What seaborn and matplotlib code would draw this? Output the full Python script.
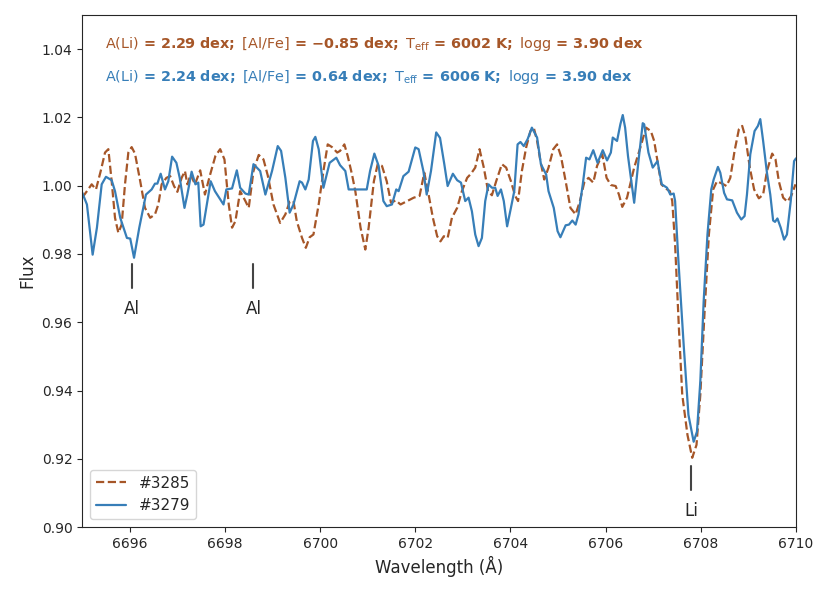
import numpy as np
import pandas as pd
import matplotlib
matplotlib.use("Agg")
import matplotlib.pyplot as plt
import seaborn as sns

# star #3279 (solid blue)
wl_3279 = [6695.00, 6695.10, 6695.22, 6695.31, 6695.41, 6695.50, 6695.62, 6695.69, 6695.80, 6695.94,
           6696.01, 6696.09, 6696.20, 6696.34, 6696.46, 6696.53, 6696.58, 6696.65, 6696.74, 6696.81,
           6696.89, 6696.98, 6697.05, 6697.15, 6697.21, 6697.30, 6697.38, 6697.44, 6697.49, 6697.55,
           6697.70, 6697.79, 6697.97, 6698.03, 6698.15, 6698.25, 6698.32, 6698.43, 6698.50, 6698.60,
           6698.74, 6698.85, 6698.99, 6699.11, 6699.18, 6699.27, 6699.36, 6699.44, 6699.57, 6699.62,
           6699.69, 6699.76, 6699.85, 6699.90, 6699.97, 6700.07, 6700.20, 6700.34, 6700.42, 6700.53,
           6700.60, 6700.98, 6701.05, 6701.14, 6701.23, 6701.33, 6701.40, 6701.51, 6701.60, 6701.65,
           6701.75, 6701.86, 6702.00, 6702.07, 6702.17, 6702.24, 6702.33, 6702.44, 6702.52, 6702.61,
           6702.68, 6702.79, 6702.88, 6702.96, 6703.05, 6703.12, 6703.19, 6703.26, 6703.33, 6703.40,
           6703.47, 6703.54, 6703.61, 6703.68, 6703.73, 6703.80, 6703.86, 6703.93, 6704.01, 6704.08,
           6704.15, 6704.21, 6704.28, 6704.36, 6704.45, 6704.56, 6704.64, 6704.75, 6704.80, 6704.91,
           6704.99, 6705.05, 6705.16, 6705.23, 6705.30, 6705.37, 6705.43, 6705.52, 6705.59, 6705.66,
           6705.74, 6705.83, 6705.94, 6706.03, 6706.11, 6706.15, 6706.24, 6706.31, 6706.36, 6706.41,
           6706.47, 6706.60, 6706.69, 6706.78, 6706.81, 6706.90, 6706.99, 6707.09, 6707.18, 6707.29,
           6707.36, 6707.43, 6707.46, 6707.53, 6707.64, 6707.74, 6707.85, 6707.92, 6707.99, 6708.06,
           6708.14, 6708.22, 6708.27, 6708.36, 6708.41, 6708.49, 6708.55, 6708.66, 6708.76, 6708.85,
           6708.92, 6708.97, 6709.04, 6709.13, 6709.20, 6709.25, 6709.31, 6709.39, 6709.46, 6709.52,
           6709.56, 6709.61, 6709.68, 6709.75, 6709.81, 6709.89, 6709.96, 6710.00]
flux_3279 = [0.9980, 0.9945, 0.9798, 0.9877, 1.0004, 1.0026, 1.0016, 0.9984, 0.9906, 0.9847,
             0.9845, 0.9789, 0.9877, 0.9974, 0.9989, 1.0006, 1.0006, 1.0035, 0.9989, 1.0013,
             1.0085, 1.0067, 1.0023, 0.9935, 0.9974, 1.0041, 1.0004, 1.0009, 0.9881, 0.9886,
             1.0013, 0.9984, 0.9945, 0.9989, 0.9992, 1.0045, 0.9994, 0.9977, 0.9974, 1.0063,
             1.0043, 0.9974, 1.0043, 1.0116, 1.0102, 1.0023, 0.9921, 0.9945, 1.0013, 1.0009,
             0.9989, 1.0018, 1.0131, 1.0143, 1.0107, 0.9994, 1.0067, 1.0082, 1.0060, 1.0043,
             0.9989, 0.9989, 1.0043, 1.0094, 1.0058, 0.9955, 0.9940, 0.9945, 0.9989, 0.9984,
             1.0028, 1.0041, 1.0112, 1.0107, 1.0043, 0.9974, 1.0043, 1.0156, 1.0140, 1.0063,
             0.9999, 1.0035, 1.0016, 1.0009, 0.9955, 0.9965, 0.9925, 0.9857, 0.9823, 0.9847,
             0.9955, 1.0004, 0.9994, 0.9994, 0.9970, 0.9989, 0.9955, 0.9881, 0.9935, 0.9984,
             1.0121, 1.0128, 1.0116, 1.0136, 1.0170, 1.0141, 1.0063, 1.0033, 0.9984, 0.9935,
             0.9867, 0.9849, 0.9884, 0.9886, 0.9898, 0.9886, 0.9916, 1.0004, 1.0082, 1.0077,
             1.0104, 1.0067, 1.0104, 1.0074, 1.0097, 1.0141, 1.0131, 1.0180, 1.0207, 1.0170,
             1.0087, 0.9950, 1.0072, 1.0183, 1.0180, 1.0097, 1.0053, 1.0072, 1.0004, 0.9994,
             0.9974, 0.9977, 0.9955, 0.9779, 0.9534, 0.9329, 0.9250, 0.9280, 0.9427, 0.9661,
             0.9857, 0.9989, 1.0018, 1.0055, 1.0038, 0.9979, 0.9960, 0.9957, 0.9921, 0.9901,
             0.9911, 0.9974, 1.0092, 1.0160, 1.0175, 1.0195, 1.0131, 1.0038, 0.9974, 0.9898,
             0.9894, 0.9904, 0.9877, 0.9842, 0.9857, 0.9955, 1.0072, 1.0080]

# star #3285 (dashed brown)
wl_3285 = [6695.00, 6695.10, 6695.20, 6695.29, 6695.39, 6695.48, 6695.55, 6695.62, 6695.69, 6695.76,
           6695.83, 6695.90, 6695.97, 6696.04, 6696.11, 6696.22, 6696.32, 6696.43, 6696.53, 6696.60,
           6696.67, 6696.77, 6696.85, 6696.93, 6697.00, 6697.09, 6697.16, 6697.21, 6697.28, 6697.37,
           6697.48, 6697.58, 6697.69, 6697.80, 6697.90, 6697.99, 6698.08, 6698.15, 6698.22, 6698.32,
           6698.43, 6698.50, 6698.60, 6698.71, 6698.81, 6698.90, 6699.02, 6699.16, 6699.27, 6699.36,
           6699.44, 6699.51, 6699.62, 6699.70, 6699.78, 6699.86, 6699.97, 6700.07, 6700.16, 6700.25,
           6700.36, 6700.42, 6700.51, 6700.58, 6700.67, 6700.74, 6700.85, 6700.95, 6701.02, 6701.13,
           6701.21, 6701.30, 6701.40, 6701.49, 6701.59, 6701.69, 6701.83, 6701.97, 6702.09, 6702.19,
           6702.28, 6702.37, 6702.46, 6702.53, 6702.60, 6702.68, 6702.77, 6702.88, 6702.98, 6703.09,
           6703.17, 6703.26, 6703.35, 6703.44, 6703.53, 6703.61, 6703.70, 6703.82, 6703.91, 6704.01,
           6704.10, 6704.16, 6704.24, 6704.33, 6704.42, 6704.49, 6704.56, 6704.63, 6704.71, 6704.80,
           6704.90, 6704.98, 6705.06, 6705.16, 6705.26, 6705.37, 6705.46, 6705.55, 6705.64, 6705.74,
           6705.82, 6705.93, 6706.02, 6706.11, 6706.21, 6706.28, 6706.35, 6706.45, 6706.60, 6706.73,
           6706.85, 6706.95, 6707.02, 6707.09, 6707.17, 6707.26, 6707.35, 6707.40, 6707.46, 6707.54,
           6707.61, 6707.72, 6707.82, 6707.91, 6707.99, 6708.08, 6708.17, 6708.26, 6708.34, 6708.45,
           6708.54, 6708.62, 6708.71, 6708.80, 6708.87, 6708.94, 6709.03, 6709.12, 6709.22, 6709.31,
           6709.39, 6709.50, 6709.57, 6709.64, 6709.73, 6709.82, 6709.90, 6709.99]
flux_3285 = [0.9965, 0.9984, 1.0004, 0.9989, 1.0043, 1.0097, 1.0107, 1.0013, 0.9906, 0.9862,
             0.9886, 1.0004, 1.0097, 1.0113, 1.0094, 1.0013, 0.9935, 0.9906, 0.9916, 0.9945,
             1.0004, 1.0023, 1.0028, 0.9999, 0.9982, 1.0023, 1.0043, 1.0004, 1.0033, 1.0004,
             1.0045, 0.9974, 1.0033, 1.0087, 1.0107, 1.0077, 0.9945, 0.9877, 0.9896, 0.9984,
             0.9955, 0.9935, 1.0043, 1.0090, 1.0077, 1.0030, 0.9945, 0.9891, 0.9916, 0.9953,
             0.9955, 0.9896, 0.9847, 0.9818, 0.9849, 0.9857, 0.9945, 1.0043, 1.0121, 1.0113,
             1.0097, 1.0102, 1.0121, 1.0087, 1.0033, 0.9984, 0.9877, 0.9813, 0.9877, 1.0013,
             1.0063, 1.0058, 1.0013, 0.9950, 0.9957, 0.9945, 0.9955, 0.9965, 0.9970, 1.0038,
             0.9974, 0.9906, 0.9852, 0.9837, 0.9852, 0.9847, 0.9906, 0.9935, 0.9984, 1.0023,
             1.0035, 1.0053, 1.0107, 1.0053, 0.9984, 0.9972, 1.0013, 1.0063, 1.0053, 1.0013,
             0.9970, 0.9955, 1.0043, 1.0112, 1.0160, 1.0170, 1.0131, 1.0072, 1.0018, 1.0053,
             1.0107, 1.0121, 1.0087, 1.0013, 0.9935, 0.9916, 0.9955, 1.0009, 1.0023, 1.0009,
             1.0058, 1.0092, 1.0023, 1.0002, 0.9999, 0.9974, 0.9938, 0.9965, 1.0053, 1.0112,
             1.0170, 1.0160, 1.0131, 1.0072, 1.0004, 0.9992, 0.9984, 0.9955, 0.9828, 0.9583,
             0.9388, 0.9270, 0.9203, 0.9241, 0.9388, 0.9632, 0.9857, 0.9989, 1.0013, 1.0006,
             0.9999, 1.0023, 1.0102, 1.0165, 1.0175, 1.0141, 1.0053, 0.9989, 0.9963, 0.9974,
             1.0043, 1.0094, 1.0077, 1.0013, 0.9965, 0.9953, 0.9970, 1.0004]

line_labels = ["Al", "Al", "Li"]
line_wl = [6696.05, 6698.6, 6707.8]
line_flux = [0.977, 0.977, 0.918]

# mathtext pads "=" itself, add a thin space on each side
hdr_3285 = (r"A(Li)$\mathbf{\,=\,2.29\ dex;}$ [Al/Fe]$\mathbf{\,=\,{-}0.85\ dex;}$ "
            r"T$_{\rm eff}\mathbf{\,=\,6002\ K;}$ logg$\mathbf{\,=\,3.90\ dex}$")
hdr_3279 = (r"A(Li)$\mathbf{\,=\,2.24\ dex;}$ [Al/Fe]$\mathbf{\,=\,0.64\ dex;}$ "
            r"T$_{\rm eff}\mathbf{\,=\,6006\ K;}$ logg$\mathbf{\,=\,3.90\ dex}$")

c_brown = "#a65628"
c_blue = "#377eb8"

sns.set_style("ticks")
plt.rcParams["mathtext.fontset"] = "dejavusans"
plt.rcParams["font.family"] = ["DejaVu Sans"]

df_a = pd.DataFrame({"wl": wl_3285, "flux": flux_3285})
df_b = pd.DataFrame({"wl": wl_3279, "flux": flux_3279})

fig = plt.figure(figsize=(8.3, 5.99), dpi=100)
ax = fig.add_axes([0.099, 0.12, 0.86, 0.855])

sns.lineplot(data=df_a, x="wl", y="flux", ax=ax, color=c_brown, linestyle="--",
             linewidth=1.6, label="#3285", sort=False)
sns.lineplot(data=df_b, x="wl", y="flux", ax=ax, color=c_blue,
             linewidth=1.6, label="#3279", sort=False)

for lab, w, f in zip(line_labels, line_wl, line_flux):
    ax.plot([w, w], [f - 0.007, f], color="#444444", linewidth=1.5)
    ax.text(w, f - 0.0105, lab, ha="center", va="top", fontsize=12)

ax.text(0.032, 0.943, hdr_3285, transform=ax.transAxes, color=c_brown, fontsize=10.4, va="center")
ax.text(0.032, 0.879, hdr_3279, transform=ax.transAxes, color=c_blue, fontsize=10.4, va="center")

ax.set_xlim(6695, 6710)
ax.set_ylim(0.90, 1.05)
ax.set_xticks(np.arange(6696, 6711, 2))
ax.set_yticks(np.arange(0.90, 1.041, 0.02))
ax.set_yticklabels([f"{v:.2f}" for v in np.arange(0.90, 1.041, 0.02)])
ax.tick_params(labelsize=10)
ax.set_xlabel("Wavelength (Å)", fontsize=12)
ax.set_ylabel("Flux", fontsize=12)
ax.legend(loc="lower left", fontsize=11, frameon=True)

fig.savefig("out.png", dpi=100)
